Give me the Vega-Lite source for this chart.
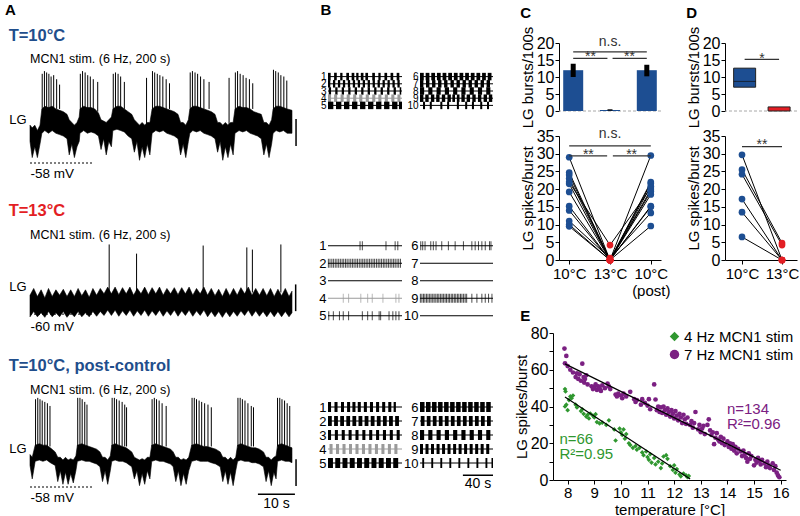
{
"$schema": "https://vega.github.io/schema/vega-lite/v6.json",
"background": "white",
"padding": {"left": 0, "top": 3, "right": 0, "bottom": 0},
"config": {
 "font": "Liberation Sans",
 "view": {"stroke": null},
 "axis": {"grid": false, "labelColor": "black", "titleColor": "black", "domainColor": "black", "tickColor": "black", "titleFontWeight": "normal", "labelFontSize": 16, "titleFontSize": 15, "tickSize": 4, "labelPadding": 1, "titlePadding": 1, "labelOverlap": false},
 "title": {"anchor": "start", "frame": "bounds", "fontSize": 15, "fontWeight": "bold", "color": "black"}
},
"datasets": {
 "env": [
  {"tr":1,"t":0,"lo":-50,"hi":-44},{"tr":1,"t":0.6,"lo":-56,"hi":-45},{"tr":1,"t":1.3,"lo":-52,"hi":-44},{"tr":1,"t":2,"lo":-56,"hi":-46},{"tr":1,"t":2.7,"lo":-51,"hi":-44},{"tr":1,"t":3.2,"lo":-47,"hi":-38},{"tr":1,"t":4,"lo":-46,"hi":-37},{"tr":1,"t":5,"lo":-47,"hi":-37.5},{"tr":1,"t":6,"lo":-46,"hi":-37},{"tr":1,"t":7,"lo":-47,"hi":-38},{"tr":1,"t":8,"lo":-47.5,"hi":-38.5},{"tr":1,"t":9,"lo":-48,"hi":-39},{"tr":1,"t":10,"lo":-49,"hi":-40},{"tr":1,"t":10.6,"lo":-55,"hi":-42},{"tr":1,"t":11.3,"lo":-51,"hi":-43},{"tr":1,"t":12,"lo":-56,"hi":-44},{"tr":1,"t":12.7,"lo":-52,"hi":-43},{"tr":1,"t":13.3,"lo":-50,"hi":-41},{"tr":1,"t":13.5,"lo":-47,"hi":-38},{"tr":1,"t":14.5,"lo":-46,"hi":-37},{"tr":1,"t":15.5,"lo":-47,"hi":-37.5},{"tr":1,"t":16.5,"lo":-46.5,"hi":-37.5},{"tr":1,"t":17.5,"lo":-47,"hi":-38},{"tr":1,"t":18.5,"lo":-48,"hi":-39.5},{"tr":1,"t":19.2,"lo":-53,"hi":-42},{"tr":1,"t":19.9,"lo":-49,"hi":-42.5},{"tr":1,"t":20.6,"lo":-55,"hi":-43},{"tr":1,"t":21.3,"lo":-50,"hi":-42},{"tr":1,"t":22,"lo":-52,"hi":-41},{"tr":1,"t":22.4,"lo":-46,"hi":-38},{"tr":1,"t":23.5,"lo":-45.5,"hi":-37},{"tr":1,"t":24.5,"lo":-46,"hi":-37},{"tr":1,"t":25.5,"lo":-46.5,"hi":-38},{"tr":1,"t":26.5,"lo":-48,"hi":-39},{"tr":1,"t":27.5,"lo":-49,"hi":-40},{"tr":1,"t":28.2,"lo":-54,"hi":-42},{"tr":1,"t":28.9,"lo":-50,"hi":-43},{"tr":1,"t":29.6,"lo":-57,"hi":-44},{"tr":1,"t":30.3,"lo":-52,"hi":-43},{"tr":1,"t":31,"lo":-56,"hi":-44},{"tr":1,"t":31.7,"lo":-51,"hi":-43},{"tr":1,"t":32.4,"lo":-55,"hi":-43},{"tr":1,"t":33,"lo":-47,"hi":-38},{"tr":1,"t":34,"lo":-46,"hi":-37},{"tr":1,"t":35,"lo":-46.5,"hi":-37},{"tr":1,"t":36,"lo":-46,"hi":-37.5},{"tr":1,"t":37,"lo":-47,"hi":-38},{"tr":1,"t":38,"lo":-47.5,"hi":-38.5},{"tr":1,"t":39,"lo":-48,"hi":-39},{"tr":1,"t":40,"lo":-49,"hi":-40},{"tr":1,"t":40.7,"lo":-55,"hi":-43},{"tr":1,"t":41.4,"lo":-51,"hi":-43},{"tr":1,"t":42.1,"lo":-56,"hi":-44},{"tr":1,"t":42.8,"lo":-50,"hi":-42},{"tr":1,"t":43.2,"lo":-47,"hi":-38},{"tr":1,"t":44,"lo":-46,"hi":-37},{"tr":1,"t":45,"lo":-46.5,"hi":-37},{"tr":1,"t":46,"lo":-46,"hi":-37.5},{"tr":1,"t":47,"lo":-47,"hi":-38},{"tr":1,"t":48,"lo":-47.5,"hi":-38.5},{"tr":1,"t":49,"lo":-48,"hi":-39},{"tr":1,"t":50,"lo":-49,"hi":-40},{"tr":1,"t":50.7,"lo":-54,"hi":-43},{"tr":1,"t":51.4,"lo":-50,"hi":-43},{"tr":1,"t":52.1,"lo":-57,"hi":-44},{"tr":1,"t":52.8,"lo":-52,"hi":-43},{"tr":1,"t":53.5,"lo":-56,"hi":-44},{"tr":1,"t":54.2,"lo":-51,"hi":-43},{"tr":1,"t":54.9,"lo":-55,"hi":-43},{"tr":1,"t":55.4,"lo":-47,"hi":-38},{"tr":1,"t":56.5,"lo":-46,"hi":-37},{"tr":1,"t":57.5,"lo":-46.5,"hi":-37.5},{"tr":1,"t":58.5,"lo":-46,"hi":-37.5},{"tr":1,"t":59.5,"lo":-47,"hi":-38},{"tr":1,"t":60.5,"lo":-47.5,"hi":-39},{"tr":1,"t":61.5,"lo":-48,"hi":-39.5},{"tr":1,"t":62.5,"lo":-49,"hi":-40},{"tr":1,"t":63.2,"lo":-55,"hi":-43},{"tr":1,"t":63.9,"lo":-51,"hi":-43},{"tr":1,"t":64.6,"lo":-56,"hi":-44},{"tr":1,"t":65.3,"lo":-51,"hi":-42},{"tr":1,"t":65.7,"lo":-47,"hi":-38},{"tr":1,"t":66.5,"lo":-46,"hi":-37},{"tr":1,"t":67.5,"lo":-46.5,"hi":-37},{"tr":1,"t":68.5,"lo":-46,"hi":-37.5},{"tr":1,"t":69.5,"lo":-47,"hi":-38},{"tr":1,"t":70.8,"lo":-47,"hi":-38.5},
  {"tr":2,"t":0,"lo":-61,"hi":-53},{"tr":2,"t":1,"lo":-59,"hi":-50.5},{"tr":2,"t":2,"lo":-61,"hi":-53.5},{"tr":2,"t":3,"lo":-59.5,"hi":-51},{"tr":2,"t":4,"lo":-61.2,"hi":-54},{"tr":2,"t":5,"lo":-59,"hi":-50.5},{"tr":2,"t":6,"lo":-61,"hi":-53.5},{"tr":2,"t":7,"lo":-59.5,"hi":-51},{"tr":2,"t":8,"lo":-61,"hi":-53},{"tr":2,"t":9,"lo":-59,"hi":-50.8},{"tr":2,"t":10,"lo":-61.2,"hi":-53.5},{"tr":2,"t":11,"lo":-59.5,"hi":-51},{"tr":2,"t":12,"lo":-61,"hi":-53.5},{"tr":2,"t":13,"lo":-59,"hi":-50.5},{"tr":2,"t":14,"lo":-61,"hi":-53.2},{"tr":2,"t":15,"lo":-59.5,"hi":-51},{"tr":2,"t":16,"lo":-61,"hi":-53.8},{"tr":2,"t":17,"lo":-59,"hi":-50.5},{"tr":2,"t":18,"lo":-60.8,"hi":-53},{"tr":2,"t":19,"lo":-59,"hi":-50.5},{"tr":2,"t":20,"lo":-60.5,"hi":-52.5},{"tr":2,"t":21,"lo":-58.5,"hi":-50},{"tr":2,"t":22,"lo":-60.5,"hi":-52.5},{"tr":2,"t":23,"lo":-58.5,"hi":-50},{"tr":2,"t":24,"lo":-60.8,"hi":-52.8},{"tr":2,"t":25,"lo":-58.8,"hi":-50.2},{"tr":2,"t":26,"lo":-60.5,"hi":-52.5},{"tr":2,"t":27,"lo":-58.5,"hi":-50},{"tr":2,"t":28,"lo":-60.8,"hi":-53},{"tr":2,"t":29,"lo":-58.8,"hi":-50.5},{"tr":2,"t":30,"lo":-60.5,"hi":-52.5},{"tr":2,"t":31,"lo":-58.5,"hi":-50},{"tr":2,"t":32,"lo":-60.8,"hi":-52.8},{"tr":2,"t":33,"lo":-58.8,"hi":-50.2},{"tr":2,"t":34,"lo":-60.5,"hi":-52.5},{"tr":2,"t":35,"lo":-58.5,"hi":-50},{"tr":2,"t":36,"lo":-60.8,"hi":-53},{"tr":2,"t":37,"lo":-58.8,"hi":-50.5},{"tr":2,"t":38,"lo":-60.5,"hi":-52.5},{"tr":2,"t":39,"lo":-58.5,"hi":-50.2},{"tr":2,"t":40,"lo":-60.8,"hi":-52.8},{"tr":2,"t":41,"lo":-58.8,"hi":-50.2},{"tr":2,"t":42,"lo":-60.5,"hi":-52.5},{"tr":2,"t":43,"lo":-58.5,"hi":-50},{"tr":2,"t":44,"lo":-60.8,"hi":-53},{"tr":2,"t":45,"lo":-58.8,"hi":-50.5},{"tr":2,"t":46,"lo":-60.5,"hi":-52.5},{"tr":2,"t":47,"lo":-58.5,"hi":-50},{"tr":2,"t":48,"lo":-61,"hi":-53},{"tr":2,"t":49,"lo":-59,"hi":-50.5},{"tr":2,"t":50,"lo":-61,"hi":-53.2},{"tr":2,"t":51,"lo":-59,"hi":-50.8},{"tr":2,"t":52,"lo":-61.2,"hi":-53.5},{"tr":2,"t":53,"lo":-59,"hi":-50.5},{"tr":2,"t":54,"lo":-61,"hi":-53.2},{"tr":2,"t":55,"lo":-59,"hi":-50.5},{"tr":2,"t":56,"lo":-60.8,"hi":-53},{"tr":2,"t":57,"lo":-58.8,"hi":-50.2},{"tr":2,"t":58,"lo":-60.5,"hi":-52.5},{"tr":2,"t":59,"lo":-58.5,"hi":-50},{"tr":2,"t":60,"lo":-60.8,"hi":-53},{"tr":2,"t":61,"lo":-58.8,"hi":-50.5},{"tr":2,"t":62,"lo":-60.8,"hi":-53},{"tr":2,"t":63,"lo":-59,"hi":-50.5},{"tr":2,"t":64,"lo":-61,"hi":-53.2},{"tr":2,"t":65,"lo":-59,"hi":-50.5},{"tr":2,"t":66,"lo":-61,"hi":-53.5},{"tr":2,"t":67,"lo":-59,"hi":-50.8},{"tr":2,"t":68,"lo":-61,"hi":-53.2},{"tr":2,"t":69,"lo":-59,"hi":-50.5},{"tr":2,"t":70,"lo":-61,"hi":-53.5},{"tr":2,"t":70.8,"lo":-59.5,"hi":-51.5},
  {"tr":3,"t":0,"lo":-50,"hi":-46},{"tr":3,"t":0.6,"lo":-55,"hi":-47},{"tr":3,"t":1.4,"lo":-48.5,"hi":-42.5},{"tr":3,"t":2.5,"lo":-48,"hi":-42},{"tr":3,"t":3.5,"lo":-48.5,"hi":-42.5},{"tr":3,"t":4.5,"lo":-48,"hi":-42.5},{"tr":3,"t":5.5,"lo":-49,"hi":-43.5},{"tr":3,"t":6.8,"lo":-50,"hi":-45},{"tr":3,"t":7.5,"lo":-56,"hi":-47},{"tr":3,"t":8.2,"lo":-52,"hi":-47},{"tr":3,"t":8.9,"lo":-57,"hi":-48},{"tr":3,"t":9.6,"lo":-52.5,"hi":-47},{"tr":3,"t":10.3,"lo":-57,"hi":-48},{"tr":3,"t":11,"lo":-53,"hi":-47.5},{"tr":3,"t":11.7,"lo":-56.5,"hi":-48},{"tr":3,"t":12.4,"lo":-52,"hi":-46.5},{"tr":3,"t":12.8,"lo":-48.5,"hi":-42.5},{"tr":3,"t":14,"lo":-48,"hi":-42},{"tr":3,"t":15,"lo":-48.5,"hi":-42.5},{"tr":3,"t":16,"lo":-48.5,"hi":-43},{"tr":3,"t":17,"lo":-49,"hi":-43.5},{"tr":3,"t":18,"lo":-49.5,"hi":-44},{"tr":3,"t":18.9,"lo":-50.5,"hi":-45},{"tr":3,"t":19.6,"lo":-56,"hi":-47},{"tr":3,"t":20.3,"lo":-52,"hi":-47},{"tr":3,"t":21,"lo":-57,"hi":-48},{"tr":3,"t":21.7,"lo":-52,"hi":-46.5},{"tr":3,"t":22.1,"lo":-48.5,"hi":-42.5},{"tr":3,"t":23,"lo":-48,"hi":-42},{"tr":3,"t":24,"lo":-48.5,"hi":-42.5},{"tr":3,"t":25,"lo":-48.5,"hi":-43},{"tr":3,"t":26,"lo":-49,"hi":-43.5},{"tr":3,"t":27.5,"lo":-50.5,"hi":-45},{"tr":3,"t":28.2,"lo":-55,"hi":-47},{"tr":3,"t":28.9,"lo":-52,"hi":-47.5},{"tr":3,"t":29.6,"lo":-57.5,"hi":-48},{"tr":3,"t":30.3,"lo":-53,"hi":-47.5},{"tr":3,"t":31,"lo":-57,"hi":-48},{"tr":3,"t":31.7,"lo":-52,"hi":-47},{"tr":3,"t":32.4,"lo":-55,"hi":-47},{"tr":3,"t":32.9,"lo":-48.5,"hi":-42.5},{"tr":3,"t":34,"lo":-48,"hi":-42},{"tr":3,"t":35,"lo":-48.5,"hi":-42.5},{"tr":3,"t":36,"lo":-48.5,"hi":-43},{"tr":3,"t":37,"lo":-49,"hi":-43.5},{"tr":3,"t":38,"lo":-49.5,"hi":-44},{"tr":3,"t":38.7,"lo":-50.5,"hi":-45},{"tr":3,"t":39.4,"lo":-56,"hi":-47},{"tr":3,"t":40.1,"lo":-52,"hi":-47},{"tr":3,"t":40.8,"lo":-57.5,"hi":-48},{"tr":3,"t":41.5,"lo":-53,"hi":-47.5},{"tr":3,"t":42.2,"lo":-57,"hi":-48},{"tr":3,"t":42.9,"lo":-52,"hi":-47},{"tr":3,"t":43.7,"lo":-48.5,"hi":-42.5},{"tr":3,"t":45,"lo":-48,"hi":-42},{"tr":3,"t":46,"lo":-48.5,"hi":-42.5},{"tr":3,"t":47,"lo":-48.5,"hi":-43},{"tr":3,"t":48,"lo":-48.5,"hi":-43},{"tr":3,"t":49,"lo":-49,"hi":-43.5},{"tr":3,"t":50.2,"lo":-49.5,"hi":-44},{"tr":3,"t":51.4,"lo":-50.5,"hi":-45},{"tr":3,"t":52.1,"lo":-56,"hi":-47},{"tr":3,"t":52.8,"lo":-52,"hi":-47},{"tr":3,"t":53.5,"lo":-57,"hi":-48},{"tr":3,"t":54.2,"lo":-52.5,"hi":-47},{"tr":3,"t":54.9,"lo":-57.5,"hi":-48},{"tr":3,"t":55.6,"lo":-52,"hi":-47},{"tr":3,"t":56.1,"lo":-48.5,"hi":-42.5},{"tr":3,"t":57,"lo":-48,"hi":-42},{"tr":3,"t":58,"lo":-48.5,"hi":-42.5},{"tr":3,"t":59,"lo":-48.5,"hi":-43},{"tr":3,"t":60,"lo":-49,"hi":-43.5},{"tr":3,"t":61,"lo":-49,"hi":-43.5},{"tr":3,"t":62,"lo":-49.5,"hi":-44},{"tr":3,"t":63.1,"lo":-50.5,"hi":-45},{"tr":3,"t":63.8,"lo":-56,"hi":-47},{"tr":3,"t":64.5,"lo":-52,"hi":-47},{"tr":3,"t":65.2,"lo":-57.5,"hi":-48},{"tr":3,"t":65.9,"lo":-52.5,"hi":-47},{"tr":3,"t":66.5,"lo":-55,"hi":-46.5},{"tr":3,"t":66.9,"lo":-48.5,"hi":-42.5},{"tr":3,"t":68,"lo":-48,"hi":-42},{"tr":3,"t":69,"lo":-48.5,"hi":-42.5},{"tr":3,"t":70,"lo":-48.5,"hi":-43},{"tr":3,"t":70.8,"lo":-49,"hi":-43.5}
 ],
 "spk": [
  {"tr":1,"t":3.3,"v":-25,"b":-38},{"tr":1,"t":3.9,"v":-24,"b":-38},{"tr":1,"t":4.5,"v":-24.5,"b":-38},{"tr":1,"t":5.1,"v":-25,"b":-38},{"tr":1,"t":5.7,"v":-26,"b":-38},{"tr":1,"t":6.4,"v":-25.5,"b":-38},{"tr":1,"t":7.2,"v":-27,"b":-38},{"tr":1,"t":8.0,"v":-29,"b":-38},
  {"tr":1,"t":13.6,"v":-25,"b":-38},{"tr":1,"t":14.2,"v":-24,"b":-38},{"tr":1,"t":14.9,"v":-24.5,"b":-38},{"tr":1,"t":15.6,"v":-25.5,"b":-38},{"tr":1,"t":16.3,"v":-26,"b":-38},{"tr":1,"t":17.1,"v":-27,"b":-38},{"tr":1,"t":18.3,"v":-28,"b":-39},
  {"tr":1,"t":22.5,"v":-25,"b":-38},{"tr":1,"t":23.1,"v":-24.5,"b":-38},{"tr":1,"t":23.8,"v":-25,"b":-38},{"tr":1,"t":24.5,"v":-26,"b":-38},{"tr":1,"t":25.5,"v":-28,"b":-38},{"tr":1,"t":31.5,"v":-26.5,"b":-44},
  {"tr":1,"t":33.1,"v":-24,"b":-38},{"tr":1,"t":33.7,"v":-24.5,"b":-38},{"tr":1,"t":34.4,"v":-25,"b":-38},{"tr":1,"t":35.1,"v":-25.5,"b":-38},{"tr":1,"t":35.9,"v":-26,"b":-38},{"tr":1,"t":36.8,"v":-27,"b":-38},{"tr":1,"t":37.7,"v":-28.5,"b":-38},
  {"tr":1,"t":43.3,"v":-24.5,"b":-38},{"tr":1,"t":43.9,"v":-24,"b":-38},{"tr":1,"t":44.6,"v":-24.5,"b":-38},{"tr":1,"t":45.3,"v":-25,"b":-38},{"tr":1,"t":46.1,"v":-26,"b":-38},{"tr":1,"t":47,"v":-27,"b":-38},{"tr":1,"t":48.4,"v":-28,"b":-38},{"tr":1,"t":53.8,"v":-26.5,"b":-44},
  {"tr":1,"t":55.5,"v":-24.5,"b":-38},{"tr":1,"t":56.1,"v":-24,"b":-38},{"tr":1,"t":56.8,"v":-25,"b":-38},{"tr":1,"t":57.6,"v":-25.5,"b":-38},{"tr":1,"t":58.4,"v":-26.5,"b":-38},{"tr":1,"t":59.3,"v":-27,"b":-38},{"tr":1,"t":60.2,"v":-28.5,"b":-38},
  {"tr":1,"t":65.8,"v":-23.5,"b":-38},{"tr":1,"t":66.4,"v":-24,"b":-38},{"tr":1,"t":67.1,"v":-24.5,"b":-38},{"tr":1,"t":67.8,"v":-25.5,"b":-38},{"tr":1,"t":68.6,"v":-26,"b":-38},{"tr":1,"t":69.4,"v":-27.5,"b":-38},
  {"tr":2,"t":21.4,"v":-34.2,"b":-52},{"tr":2,"t":28.8,"v":-37.6,"b":-52},{"tr":2,"t":46.8,"v":-34.6,"b":-52},{"tr":2,"t":58.6,"v":-35.3,"b":-52},{"tr":2,"t":60.1,"v":-36.1,"b":-52},{"tr":2,"t":67.8,"v":-34.2,"b":-52},
  {"tr":3,"t":1.5,"v":-25.5,"b":-43},{"tr":3,"t":2.1,"v":-25,"b":-43},{"tr":3,"t":2.7,"v":-25.5,"b":-43},{"tr":3,"t":3.3,"v":-26,"b":-43},{"tr":3,"t":4.0,"v":-26.5,"b":-43},{"tr":3,"t":4.7,"v":-27,"b":-43},{"tr":3,"t":5.4,"v":-28,"b":-43},
  {"tr":3,"t":12.9,"v":-25,"b":-43},{"tr":3,"t":13.5,"v":-25,"b":-43},{"tr":3,"t":14.1,"v":-25.5,"b":-43},{"tr":3,"t":14.8,"v":-26.5,"b":-43},{"tr":3,"t":15.4,"v":-27.5,"b":-43},
  {"tr":3,"t":22.2,"v":-25,"b":-43},{"tr":3,"t":22.8,"v":-25,"b":-43},{"tr":3,"t":23.4,"v":-25.5,"b":-43},{"tr":3,"t":24.1,"v":-26,"b":-43},{"tr":3,"t":24.9,"v":-26.5,"b":-43},{"tr":3,"t":25.6,"v":-27.5,"b":-43},{"tr":3,"t":26.1,"v":-28.5,"b":-43},
  {"tr":3,"t":33,"v":-25.5,"b":-43},{"tr":3,"t":33.6,"v":-25,"b":-43},{"tr":3,"t":34.2,"v":-25.5,"b":-43},{"tr":3,"t":34.9,"v":-26,"b":-43},{"tr":3,"t":35.7,"v":-27,"b":-43},{"tr":3,"t":36.8,"v":-28,"b":-43},
  {"tr":3,"t":43.8,"v":-25,"b":-43},{"tr":3,"t":44.4,"v":-25,"b":-43},{"tr":3,"t":45,"v":-25.5,"b":-43},{"tr":3,"t":45.7,"v":-26,"b":-43},{"tr":3,"t":46.4,"v":-26.5,"b":-43},{"tr":3,"t":47.2,"v":-27,"b":-43},{"tr":3,"t":48.1,"v":-27.5,"b":-43},{"tr":3,"t":49,"v":-28.5,"b":-43},
  {"tr":3,"t":56.2,"v":-25,"b":-43},{"tr":3,"t":56.8,"v":-25,"b":-43},{"tr":3,"t":57.4,"v":-25.5,"b":-43},{"tr":3,"t":58.1,"v":-26,"b":-43},{"tr":3,"t":58.9,"v":-27,"b":-43},{"tr":3,"t":59.8,"v":-28,"b":-43},{"tr":3,"t":60.4,"v":-28.5,"b":-43},
  {"tr":3,"t":66.9,"v":-25,"b":-43},{"tr":3,"t":67.5,"v":-25,"b":-43},{"tr":3,"t":68.1,"v":-25.5,"b":-43},{"tr":3,"t":68.8,"v":-26,"b":-43},{"tr":3,"t":69.5,"v":-27,"b":-43},{"tr":3,"t":70.2,"v":-28,"b":-43}
 ],
 "rows": [{"r":1},{"r":2},{"r":3},{"r":4},{"r":5},{"r":6},{"r":7},{"r":8},{"r":9},{"r":10}],
 "b": [
  {"g":1,"r":1,"s":0,"e":3.5},{"g":1,"r":1,"s":8,"e":11.5},{"g":1,"r":1,"s":16,"e":19},{"g":1,"r":1,"s":24,"e":27.5},{"g":1,"r":1,"s":31,"e":34.5},{"g":1,"r":1,"s":37,"e":40},{"g":1,"r":1,"s":43,"e":46.5},{"g":1,"r":1,"s":49,"e":52.5},{"g":1,"r":1,"s":58,"e":61.5},{"g":1,"r":1,"s":66,"e":69},{"g":1,"r":1,"s":74,"e":77.5},{"g":1,"r":1,"s":82,"e":85.5},{"g":1,"r":1,"s":90,"e":93.5},
  {"g":1,"r":2,"s":0,"e":3},{"g":1,"r":2,"s":6.5,"e":9.5},{"g":1,"r":2,"s":13,"e":16},{"g":1,"r":2,"s":19.5,"e":22.5},{"g":1,"r":2,"s":26,"e":29},{"g":1,"r":2,"s":32.5,"e":35.5},{"g":1,"r":2,"s":39,"e":42},{"g":1,"r":2,"s":45.5,"e":48.5},{"g":1,"r":2,"s":52,"e":55},{"g":1,"r":2,"s":58.5,"e":61.5},{"g":1,"r":2,"s":65,"e":68},{"g":1,"r":2,"s":71.5,"e":74.5},{"g":1,"r":2,"s":78,"e":81},{"g":1,"r":2,"s":84.5,"e":87.5},{"g":1,"r":2,"s":91,"e":94},
  {"g":1,"r":3,"s":1,"e":4},{"g":1,"r":3,"s":9.5,"e":12.5},{"g":1,"r":3,"s":18,"e":21},{"g":1,"r":3,"s":26.5,"e":29.5},{"g":1,"r":3,"s":35,"e":38},{"g":1,"r":3,"s":43.5,"e":46.5},{"g":1,"r":3,"s":52,"e":55},{"g":1,"r":3,"s":60.5,"e":63.5},{"g":1,"r":3,"s":69,"e":72},{"g":1,"r":3,"s":77.5,"e":80.5},{"g":1,"r":3,"s":86,"e":89},{"g":1,"r":3,"s":94,"e":96},
  {"g":1,"r":4,"s":0,"e":4},{"g":1,"r":4,"s":8,"e":12},{"g":1,"r":4,"s":16.5,"e":20.5},{"g":1,"r":4,"s":24.5,"e":28.5},{"g":1,"r":4,"s":33,"e":37},{"g":1,"r":4,"s":41,"e":45},{"g":1,"r":4,"s":49.5,"e":53.5},{"g":1,"r":4,"s":58,"e":62},{"g":1,"r":4,"s":66,"e":70},{"g":1,"r":4,"s":74.5,"e":78.5},{"g":1,"r":4,"s":83,"e":87},{"g":1,"r":4,"s":91,"e":95},
  {"g":1,"r":5,"s":0,"e":7},{"g":1,"r":5,"s":10.5,"e":17.5},{"g":1,"r":5,"s":21,"e":28},{"g":1,"r":5,"s":31.5,"e":38.5},{"g":1,"r":5,"s":42,"e":49},{"g":1,"r":5,"s":52.5,"e":59.5},{"g":1,"r":5,"s":63,"e":70},{"g":1,"r":5,"s":73.5,"e":80.5},{"g":1,"r":5,"s":84,"e":91},{"g":1,"r":5,"s":93,"e":97},
  {"g":1,"r":6,"s":0,"e":5},{"g":1,"r":6,"s":7.5,"e":12.5},{"g":1,"r":6,"s":15,"e":20},{"g":1,"r":6,"s":22.5,"e":27.5},{"g":1,"r":6,"s":30,"e":35},{"g":1,"r":6,"s":37.5,"e":42.5},{"g":1,"r":6,"s":45,"e":50},{"g":1,"r":6,"s":52.5,"e":57.5},{"g":1,"r":6,"s":60,"e":65},{"g":1,"r":6,"s":67.5,"e":72.5},{"g":1,"r":6,"s":75,"e":80},{"g":1,"r":6,"s":82.5,"e":87.5},{"g":1,"r":6,"s":90,"e":95},
  {"g":1,"r":7,"s":0,"e":4.5},{"g":1,"r":7,"s":8,"e":12.5},{"g":1,"r":7,"s":16,"e":20.5},{"g":1,"r":7,"s":24,"e":28.5},{"g":1,"r":7,"s":32,"e":36.5},{"g":1,"r":7,"s":40.5,"e":45},{"g":1,"r":7,"s":48.5,"e":53},{"g":1,"r":7,"s":56.5,"e":61},{"g":1,"r":7,"s":64.5,"e":69},{"g":1,"r":7,"s":72.5,"e":77},{"g":1,"r":7,"s":80.5,"e":85},{"g":1,"r":7,"s":88.5,"e":93},
  {"g":1,"r":8,"s":0,"e":5.5},{"g":1,"r":8,"s":11,"e":16.5},{"g":1,"r":8,"s":22,"e":27.5},{"g":1,"r":8,"s":33,"e":38.5},{"g":1,"r":8,"s":44,"e":49.5},{"g":1,"r":8,"s":55,"e":60.5},{"g":1,"r":8,"s":66,"e":71.5},{"g":1,"r":8,"s":77,"e":82.5},{"g":1,"r":8,"s":88,"e":93.5},
  {"g":1,"r":9,"s":0,"e":4.5},{"g":1,"r":9,"s":7,"e":11.5},{"g":1,"r":9,"s":14.5,"e":19},{"g":1,"r":9,"s":21.5,"e":26},{"g":1,"r":9,"s":29,"e":33.5},{"g":1,"r":9,"s":36.5,"e":41},{"g":1,"r":9,"s":43,"e":46.5},{"g":1,"r":9,"s":49,"e":52.5},{"g":1,"r":9,"s":55,"e":59.5},{"g":1,"r":9,"s":62,"e":66.5},{"g":1,"r":9,"s":69.5,"e":74},{"g":1,"r":9,"s":77,"e":81.5},{"g":1,"r":9,"s":84.5,"e":89},{"g":1,"r":9,"s":91.5,"e":96},
  {"g":1,"r":10,"s":4,"e":6.7},{"g":1,"r":10,"s":13,"e":15.7},{"g":1,"r":10,"s":27,"e":29.7},{"g":1,"r":10,"s":36,"e":38.7},{"g":1,"r":10,"s":49,"e":51.7},{"g":1,"r":10,"s":60,"e":62.7},{"g":1,"r":10,"s":69,"e":71.7},{"g":1,"r":10,"s":80,"e":82.7},{"g":1,"r":10,"s":89,"e":91.7},
  {"g":3,"r":1,"s":0,"e":4},{"g":3,"r":1,"s":8.5,"e":12.5},{"g":3,"r":1,"s":17,"e":21},{"g":3,"r":1,"s":25,"e":29},{"g":3,"r":1,"s":32,"e":36},{"g":3,"r":1,"s":39,"e":43},{"g":3,"r":1,"s":47,"e":51},{"g":3,"r":1,"s":55,"e":59},{"g":3,"r":1,"s":63,"e":67},{"g":3,"r":1,"s":71,"e":75},{"g":3,"r":1,"s":79,"e":83},{"g":3,"r":1,"s":86,"e":89},
  {"g":3,"r":2,"s":0,"e":5},{"g":3,"r":2,"s":8,"e":13},{"g":3,"r":2,"s":16,"e":21},{"g":3,"r":2,"s":24,"e":29},{"g":3,"r":2,"s":32,"e":37},{"g":3,"r":2,"s":40,"e":45},{"g":3,"r":2,"s":48,"e":53},{"g":3,"r":2,"s":56,"e":61},{"g":3,"r":2,"s":64,"e":69},{"g":3,"r":2,"s":72,"e":77},{"g":3,"r":2,"s":80,"e":85},{"g":3,"r":2,"s":88,"e":93},
  {"g":3,"r":3,"s":0,"e":4},{"g":3,"r":3,"s":9,"e":13},{"g":3,"r":3,"s":18,"e":22},{"g":3,"r":3,"s":27,"e":31},{"g":3,"r":3,"s":36,"e":40},{"g":3,"r":3,"s":45,"e":49},{"g":3,"r":3,"s":54,"e":58},{"g":3,"r":3,"s":63,"e":67},{"g":3,"r":3,"s":72,"e":76},{"g":3,"r":3,"s":81,"e":85},{"g":3,"r":3,"s":90,"e":94},
  {"g":3,"r":4,"s":2,"e":6},{"g":3,"r":4,"s":10.5,"e":14.5},{"g":3,"r":4,"s":19,"e":23},{"g":3,"r":4,"s":27.5,"e":31.5},{"g":3,"r":4,"s":36,"e":40},{"g":3,"r":4,"s":44.5,"e":48.5},{"g":3,"r":4,"s":53,"e":57},{"g":3,"r":4,"s":61.5,"e":65.5},{"g":3,"r":4,"s":70,"e":74},{"g":3,"r":4,"s":78.5,"e":82.5},{"g":3,"r":4,"s":87,"e":91},
  {"g":3,"r":5,"s":0,"e":6.5},{"g":3,"r":5,"s":9.5,"e":16},{"g":3,"r":5,"s":19,"e":25.5},{"g":3,"r":5,"s":28.5,"e":35},{"g":3,"r":5,"s":38,"e":44.5},{"g":3,"r":5,"s":47.5,"e":54},{"g":3,"r":5,"s":57,"e":63.5},{"g":3,"r":5,"s":66.5,"e":73},{"g":3,"r":5,"s":76,"e":82.5},{"g":3,"r":5,"s":85.5,"e":92},
  {"g":3,"r":6,"s":0,"e":6},{"g":3,"r":6,"s":8,"e":14},{"g":3,"r":6,"s":16,"e":22},{"g":3,"r":6,"s":24,"e":30},{"g":3,"r":6,"s":32,"e":38},{"g":3,"r":6,"s":40,"e":46},{"g":3,"r":6,"s":48,"e":54},{"g":3,"r":6,"s":56,"e":62},{"g":3,"r":6,"s":64,"e":70},{"g":3,"r":6,"s":72,"e":78},{"g":3,"r":6,"s":80,"e":86},{"g":3,"r":6,"s":88,"e":94},
  {"g":3,"r":7,"s":1,"e":6},{"g":3,"r":7,"s":9,"e":14},{"g":3,"r":7,"s":17,"e":22},{"g":3,"r":7,"s":25,"e":30},{"g":3,"r":7,"s":33,"e":38},{"g":3,"r":7,"s":41,"e":46},{"g":3,"r":7,"s":49,"e":54},{"g":3,"r":7,"s":57,"e":62},{"g":3,"r":7,"s":65,"e":70},{"g":3,"r":7,"s":73,"e":78},{"g":3,"r":7,"s":81,"e":86},{"g":3,"r":7,"s":89,"e":94},
  {"g":3,"r":8,"s":0,"e":5.5},{"g":3,"r":8,"s":11,"e":16.5},{"g":3,"r":8,"s":22,"e":27.5},{"g":3,"r":8,"s":33,"e":38.5},{"g":3,"r":8,"s":44,"e":49.5},{"g":3,"r":8,"s":55,"e":60.5},{"g":3,"r":8,"s":66,"e":71.5},{"g":3,"r":8,"s":77,"e":82.5},{"g":3,"r":8,"s":88,"e":93.5},
  {"g":3,"r":9,"s":0,"e":4},{"g":3,"r":9,"s":7.3,"e":11.3},{"g":3,"r":9,"s":14.6,"e":18.6},{"g":3,"r":9,"s":22,"e":26},{"g":3,"r":9,"s":29.3,"e":33.3},{"g":3,"r":9,"s":36.6,"e":40.6},{"g":3,"r":9,"s":44,"e":48},{"g":3,"r":9,"s":51.3,"e":55.3},{"g":3,"r":9,"s":58.6,"e":62.6},{"g":3,"r":9,"s":66,"e":70},{"g":3,"r":9,"s":73.3,"e":77.3},{"g":3,"r":9,"s":80.6,"e":84.6},{"g":3,"r":9,"s":88,"e":92},
  {"g":3,"r":10,"s":3,"e":5.5},{"g":3,"r":10,"s":15,"e":17.5},{"g":3,"r":10,"s":27,"e":29.5},{"g":3,"r":10,"s":39,"e":41.5},{"g":3,"r":10,"s":51,"e":53.5},{"g":3,"r":10,"s":63,"e":65.5},{"g":3,"r":10,"s":75,"e":77.5},{"g":3,"r":10,"s":87,"e":89.5},{"g":3,"r":10,"s":95,"e":97}
 ],
 "k": [
  {"r":1,"t":42},{"r":1,"t":45},{"r":1,"t":76},{"r":1,"t":88},{"r":1,"t":91.5},
  {"r":2,"t":0.5},{"r":2,"t":2.6},{"r":2,"t":5},{"r":2,"t":7.1},{"r":2,"t":9.5},{"r":2,"t":11.7},{"r":2,"t":14},{"r":2,"t":16.2},{"r":2,"t":18.5},{"r":2,"t":20.6},{"r":2,"t":23},{"r":2,"t":25.1},{"r":2,"t":27.5},{"r":2,"t":29.8},{"r":2,"t":32},{"r":2,"t":34.2},{"r":2,"t":36.5},{"r":2,"t":38.6},{"r":2,"t":41},{"r":2,"t":43.3},{"r":2,"t":45.5},{"r":2,"t":47.6},{"r":2,"t":50},{"r":2,"t":52.2},{"r":2,"t":54.5},{"r":2,"t":56.7},{"r":2,"t":59},{"r":2,"t":61.1},{"r":2,"t":63.5},{"r":2,"t":65.8},{"r":2,"t":68},{"r":2,"t":70.2},{"r":2,"t":72.5},{"r":2,"t":74.6},{"r":2,"t":77},{"r":2,"t":79.2},{"r":2,"t":81.5},{"r":2,"t":83.7},{"r":2,"t":86},{"r":2,"t":88.1},{"r":2,"t":90.5},{"r":2,"t":92.7},{"r":2,"t":95},
  {"r":4,"t":20},{"r":4,"t":27},{"r":4,"t":43},{"r":4,"t":52},{"r":4,"t":58},{"r":4,"t":72},{"r":4,"t":89},{"r":4,"t":93},
  {"r":5,"t":1},{"r":5,"t":7},{"r":5,"t":15},{"r":5,"t":20},{"r":5,"t":27},{"r":5,"t":45},{"r":5,"t":52},{"r":5,"t":58},{"r":5,"t":67},{"r":5,"t":69},{"r":5,"t":80},{"r":5,"t":85},{"r":5,"t":89},{"r":5,"t":93},
  {"r":6,"t":1},{"r":6,"t":3.6},{"r":6,"t":6.7},{"r":6,"t":14.3},{"r":6,"t":17.7},{"r":6,"t":21.3},{"r":6,"t":28.9},{"r":6,"t":37.7},{"r":6,"t":46.7},{"r":6,"t":57.7},{"r":6,"t":68.9},{"r":6,"t":73.3},{"r":6,"t":77.7},{"r":6,"t":82.2},{"r":6,"t":86.7},{"r":6,"t":92.4},{"r":6,"t":94.3},
  {"r":9,"t":0.5},{"r":9,"t":2.5},{"r":9,"t":4.6},{"r":9,"t":6.5},{"r":9,"t":8.7},{"r":9,"t":10.6},{"r":9,"t":12.8},{"r":9,"t":14.7},{"r":9,"t":16.9},{"r":9,"t":18.8},{"r":9,"t":21},{"r":9,"t":23},{"r":9,"t":25},{"r":9,"t":27.1},{"r":9,"t":29.2},{"r":9,"t":31.1},{"r":9,"t":33.3},{"r":9,"t":35.2},{"r":9,"t":37.4},{"r":9,"t":39.3},{"r":9,"t":41.5},{"r":9,"t":43.4},{"r":9,"t":45.6},{"r":9,"t":47.5},{"r":9,"t":49.7},{"r":9,"t":51.6},{"r":9,"t":53.8},{"r":9,"t":55.7},{"r":9,"t":57.9},{"r":9,"t":60},{"r":9,"t":62},{"r":9,"t":68.9},{"r":9,"t":75.6},{"r":9,"t":82.2},{"r":9,"t":86.7},{"r":9,"t":91.1},{"r":9,"t":95.6}
 ],
 "cbar": [{"x":1,"m":12,"lo":10,"hi":13.9},{"x":2,"m":0.3,"lo":0.1,"hi":0.5},{"x":3,"m":12,"lo":10.2,"hi":13.6}],
 "cs": [
  {"p":1,"x":1,"v":29},{"p":1,"x":2,"v":0},{"p":1,"x":3,"v":29.5},
  {"p":2,"x":1,"v":24.7},{"p":2,"x":2,"v":0},{"p":2,"x":3,"v":22},
  {"p":3,"x":1,"v":24},{"p":3,"x":2,"v":0},{"p":3,"x":3,"v":21.6},
  {"p":4,"x":1,"v":23},{"p":4,"x":2,"v":0},{"p":4,"x":3,"v":20.8},
  {"p":5,"x":1,"v":22},{"p":5,"x":2,"v":4.2},{"p":5,"x":3,"v":20.3},
  {"p":6,"x":1,"v":21.5},{"p":6,"x":2,"v":0},{"p":6,"x":3,"v":19.8},
  {"p":7,"x":1,"v":19.2},{"p":7,"x":2,"v":0},{"p":7,"x":3,"v":19.3},
  {"p":8,"x":1,"v":15.2},{"p":8,"x":2,"v":0},{"p":8,"x":3,"v":18.5},
  {"p":9,"x":1,"v":14},{"p":9,"x":2,"v":0},{"p":9,"x":3,"v":15.2},
  {"p":10,"x":1,"v":11},{"p":10,"x":2,"v":0.5},{"p":10,"x":3,"v":13.3},
  {"p":11,"x":1,"v":10},{"p":11,"x":2,"v":0},{"p":11,"x":3,"v":15},
  {"p":12,"x":1,"v":9.5},{"p":12,"x":2,"v":0},{"p":12,"x":3,"v":9.6}
 ],
 "dbox": [{"x":1,"q1":7,"q3":12.6,"med":8.7},{"x":2,"q1":0,"q3":1.2,"med":0}],
 "ds": [
  {"p":1,"x":1,"v":29.7},{"p":1,"x":2,"v":0},
  {"p":2,"x":1,"v":25.5},{"p":2,"x":2,"v":4.8},
  {"p":3,"x":1,"v":24.2},{"p":3,"x":2,"v":4.2},
  {"p":4,"x":1,"v":17.2},{"p":4,"x":2,"v":0},
  {"p":5,"x":1,"v":13.5},{"p":5,"x":2,"v":0},
  {"p":6,"x":1,"v":6.5},{"p":6,"x":2,"v":0}
 ],
 "sig": [
  {"p":"ct","x1":1,"x2":3,"y":17.4,"xm":2,"ty":19.1,"lab":"n.s."},
  {"p":"ct","x1":1,"x2":1.93,"y":15.5,"xm":1.47,"ty":14.7,"lab":"**"},
  {"p":"ct","x1":2.07,"x2":3,"y":15.5,"xm":2.53,"ty":14.7,"lab":"**"},
  {"p":"cb","x1":1,"x2":3,"y":32.2,"xm":2,"ty":34.5,"lab":"n.s."},
  {"p":"cb","x1":1,"x2":1.93,"y":29.4,"xm":1.47,"ty":28.6,"lab":"**"},
  {"p":"cb","x1":2.07,"x2":3,"y":29.4,"xm":2.53,"ty":28.6,"lab":"**"},
  {"p":"dt","x1":1,"x2":2,"y":15.2,"xm":1.5,"ty":14.1,"lab":"*"},
  {"p":"db","x1":1,"x2":2,"y":32,"xm":1.5,"ty":31.3,"lab":"**"}
 ],
 "reg": [{"f":4,"T":7.9,"v":45.2},{"f":4,"T":12.6,"v":0.5},{"f":7,"T":7.9,"v":63.2},{"f":7,"T":16,"v":5.3}],
 "etx": [{"f":7,"T":13.98,"v":35.9,"txt":"n=134"},{"f":7,"T":13.98,"v":27.8,"txt":"R²=0.96"},{"f":4,"T":7.69,"v":19.6,"txt":"n=66"},{"f":4,"T":7.69,"v":11.4,"txt":"R²=0.95"}],
 "sc": [
  {"f":4,"T":7.9,"v":49.5},{"f":4,"T":7.92,"v":48.2},{"f":4,"T":7.95,"v":41},{"f":4,"T":7.9,"v":40},{"f":4,"T":8.0,"v":38},{"f":4,"T":8.05,"v":43.5},{"f":4,"T":8.1,"v":45.5},{"f":4,"T":8.15,"v":44.5},{"f":4,"T":8.2,"v":46},{"f":4,"T":8.3,"v":41},{"f":4,"T":8.35,"v":39.5},{"f":4,"T":8.5,"v":37.5},{"f":4,"T":8.55,"v":38.5},{"f":4,"T":8.6,"v":36},{"f":4,"T":8.7,"v":34.5},{"f":4,"T":8.75,"v":35.5},{"f":4,"T":8.8,"v":33.5},{"f":4,"T":8.85,"v":36.2},{"f":4,"T":8.95,"v":35},{"f":4,"T":9.0,"v":34},{"f":4,"T":9.05,"v":35.8},{"f":4,"T":9.1,"v":31.5},{"f":4,"T":9.2,"v":30.8},{"f":4,"T":9.3,"v":31.2},{"f":4,"T":9.45,"v":30},{"f":4,"T":9.55,"v":32.5},{"f":4,"T":9.75,"v":27.5},{"f":4,"T":9.8,"v":21.5},{"f":4,"T":9.95,"v":28},{"f":4,"T":10.0,"v":26},{"f":4,"T":10.05,"v":24.5},{"f":4,"T":10.1,"v":27.5},{"f":4,"T":10.15,"v":22.5},{"f":4,"T":10.2,"v":25},{"f":4,"T":10.3,"v":20},{"f":4,"T":10.35,"v":19},{"f":4,"T":10.45,"v":17.5},{"f":4,"T":10.55,"v":18.5},{"f":4,"T":10.6,"v":16.5},{"f":4,"T":10.7,"v":17.5},{"f":4,"T":10.8,"v":15},{"f":4,"T":10.85,"v":13.5},{"f":4,"T":10.95,"v":15.5},{"f":4,"T":11.0,"v":12.5},{"f":4,"T":11.05,"v":11},{"f":4,"T":11.1,"v":14},{"f":4,"T":11.15,"v":9.5},{"f":4,"T":11.25,"v":12},{"f":4,"T":11.3,"v":8.5},{"f":4,"T":11.4,"v":10},{"f":4,"T":11.5,"v":6.5},{"f":4,"T":11.55,"v":9},{"f":4,"T":11.6,"v":12.8},{"f":4,"T":11.7,"v":13.5},{"f":4,"T":11.75,"v":11.5},{"f":4,"T":11.85,"v":7.5},{"f":4,"T":11.95,"v":5.5},{"f":4,"T":12.0,"v":8},{"f":4,"T":12.05,"v":4},{"f":4,"T":12.1,"v":6},{"f":4,"T":12.2,"v":3},{"f":4,"T":12.25,"v":2},{"f":4,"T":12.35,"v":3.5},{"f":4,"T":12.45,"v":2.5},{"f":4,"T":12.5,"v":1.5},{"f":4,"T":12.55,"v":2.2},
  {"f":7,"T":7.88,"v":71.5},{"f":7,"T":7.9,"v":63.5},{"f":7,"T":7.95,"v":67.5},{"f":7,"T":8.0,"v":62},{"f":7,"T":8.1,"v":60},{"f":7,"T":8.2,"v":58.5},{"f":7,"T":8.3,"v":56},{"f":7,"T":8.35,"v":58},{"f":7,"T":8.4,"v":55},{"f":7,"T":8.45,"v":57.5},{"f":7,"T":8.5,"v":54},{"f":7,"T":8.55,"v":63.3},{"f":7,"T":8.6,"v":56},{"f":7,"T":8.62,"v":53},{"f":7,"T":8.65,"v":55},{"f":7,"T":8.7,"v":57},{"f":7,"T":8.75,"v":52},{"f":7,"T":8.9,"v":51},{"f":7,"T":8.95,"v":49.5},{"f":7,"T":9.0,"v":50.5},{"f":7,"T":9.05,"v":52},{"f":7,"T":9.1,"v":49},{"f":7,"T":9.15,"v":51},{"f":7,"T":9.2,"v":50},{"f":7,"T":9.25,"v":48.5},{"f":7,"T":9.3,"v":51.5},{"f":7,"T":9.4,"v":50},{"f":7,"T":9.5,"v":52.5},{"f":7,"T":9.55,"v":51},{"f":7,"T":9.6,"v":49.5},{"f":7,"T":9.8,"v":46.5},{"f":7,"T":9.85,"v":45.5},{"f":7,"T":9.9,"v":47},{"f":7,"T":10.0,"v":46},{"f":7,"T":10.05,"v":44.5},{"f":7,"T":10.1,"v":47},{"f":7,"T":10.2,"v":45.5},{"f":7,"T":10.35,"v":48},{"f":7,"T":10.5,"v":44},{"f":7,"T":10.55,"v":42.5},{"f":7,"T":10.6,"v":43.5},{"f":7,"T":10.75,"v":41},{"f":7,"T":10.8,"v":44},{"f":7,"T":10.9,"v":42},{"f":7,"T":11.0,"v":40.5},{"f":7,"T":11.05,"v":44},{"f":7,"T":11.1,"v":38.5},{"f":7,"T":11.25,"v":52},{"f":7,"T":11.3,"v":43.8},{"f":7,"T":11.35,"v":38},{"f":7,"T":11.4,"v":40},{"f":7,"T":11.45,"v":37},{"f":7,"T":11.5,"v":39.5},{"f":7,"T":11.55,"v":36.5},{"f":7,"T":11.6,"v":40},{"f":7,"T":11.65,"v":38},{"f":7,"T":11.7,"v":35.5},{"f":7,"T":11.75,"v":39},{"f":7,"T":11.8,"v":37},{"f":7,"T":11.85,"v":34.5},{"f":7,"T":11.9,"v":38},{"f":7,"T":11.95,"v":36},{"f":7,"T":12.0,"v":33.5},{"f":7,"T":12.05,"v":37.5},{"f":7,"T":12.1,"v":35},{"f":7,"T":12.15,"v":32.5},{"f":7,"T":12.2,"v":36},{"f":7,"T":12.25,"v":34},{"f":7,"T":12.3,"v":31},{"f":7,"T":12.35,"v":35.5},{"f":7,"T":12.4,"v":33},{"f":7,"T":12.45,"v":30.5},{"f":7,"T":12.5,"v":34},{"f":7,"T":12.6,"v":30},{"f":7,"T":12.65,"v":32},{"f":7,"T":12.7,"v":28.5},{"f":7,"T":12.75,"v":31},{"f":7,"T":12.8,"v":37},{"f":7,"T":12.9,"v":27.5},{"f":7,"T":12.95,"v":30},{"f":7,"T":13.0,"v":26},{"f":7,"T":13.05,"v":28},{"f":7,"T":13.1,"v":29.5},{"f":7,"T":13.15,"v":25},{"f":7,"T":13.25,"v":30},{"f":7,"T":13.3,"v":33},{"f":7,"T":13.35,"v":27},{"f":7,"T":13.4,"v":24.5},{"f":7,"T":13.45,"v":26},{"f":7,"T":13.5,"v":19.5},{"f":7,"T":13.55,"v":23},{"f":7,"T":13.6,"v":25.5},{"f":7,"T":13.65,"v":22},{"f":7,"T":13.7,"v":21},{"f":7,"T":13.75,"v":23.5},{"f":7,"T":13.8,"v":20},{"f":7,"T":13.85,"v":22.5},{"f":7,"T":13.9,"v":19},{"f":7,"T":14.0,"v":21},{"f":7,"T":14.05,"v":18},{"f":7,"T":14.1,"v":20},{"f":7,"T":14.15,"v":17},{"f":7,"T":14.2,"v":19.5},{"f":7,"T":14.25,"v":16},{"f":7,"T":14.3,"v":18},{"f":7,"T":14.35,"v":14.5},{"f":7,"T":14.4,"v":17},{"f":7,"T":14.5,"v":15.5},{"f":7,"T":14.55,"v":13},{"f":7,"T":14.6,"v":16},{"f":7,"T":14.65,"v":14},{"f":7,"T":14.7,"v":12},{"f":7,"T":14.75,"v":10},{"f":7,"T":14.8,"v":14.5},{"f":7,"T":14.85,"v":11.5},{"f":7,"T":14.9,"v":13},{"f":7,"T":15.0,"v":8},{"f":7,"T":15.05,"v":11},{"f":7,"T":15.1,"v":9.5},{"f":7,"T":15.15,"v":12},{"f":7,"T":15.2,"v":10.5},{"f":7,"T":15.25,"v":8.5},{"f":7,"T":15.3,"v":11},{"f":7,"T":15.4,"v":9},{"f":7,"T":15.45,"v":7},{"f":7,"T":15.5,"v":10},{"f":7,"T":15.55,"v":8},{"f":7,"T":15.6,"v":6.5},{"f":7,"T":15.7,"v":9},{"f":7,"T":15.75,"v":5.5},{"f":7,"T":15.8,"v":7.5},{"f":7,"T":15.85,"v":4},{"f":7,"T":15.9,"v":2.5},{"f":7,"T":15.95,"v":1.5}
 ]
},
"bounds": "flush",
"spacing": 0,
"hconcat": [
 {"width": 30, "height": 1, "data": {"values": []}, "mark": "point", "title": {"text": "A", "offset": 25, "dx": 5}},
 {
  "bounds": "flush", "spacing": 55,
  "vconcat": [
   {
    "width": 268, "height": 120,
    "title": {"text": "T=10°C", "color": "#1f4e8c", "fontSize": 16.5, "offset": -1},
    "layer": [
     {"data": {"name": "env"}, "transform": [{"filter": "datum.tr == 1"}], "mark": {"type": "area", "color": "black", "stroke": "black", "strokeWidth": 0.6},
      "encoding": {"x": {"field": "t", "type": "quantitative", "scale": {"domain": [0, 72.43], "nice": false, "zero": false}, "axis": {"title": "-58 mV", "titleAnchor": "start", "titleFontSize": 13.5, "titlePadding": 3, "labels": false, "ticks": false, "domain": false}},
       "y": {"field": "hi", "type": "quantitative", "scale": {"domain": [-58, -13.6], "nice": false, "zero": false}, "axis": {"title": "LG", "titleAngle": 0, "titleAlign": "right", "titleBaseline": "middle", "titleX": -4, "titleY": 76, "titleFontSize": 13, "labels": false, "ticks": false, "domain": false}},
       "y2": {"field": "lo"}}},
     {"data": {"name": "spk"}, "transform": [{"filter": "datum.tr == 1"}], "mark": {"type": "rule", "color": "black", "strokeWidth": 1},
      "encoding": {"x": {"field": "t", "type": "quantitative"}, "y": {"field": "v", "type": "quantitative"}, "y2": {"field": "b"}}},
     {"data": {"values": [{}]}, "mark": {"type": "rule", "color": "black", "strokeDash": [2, 2]}, "encoding": {"x": {"datum": 0}, "x2": {"datum": 16.8}, "y": {"datum": -58}}},
     {"data": {"values": [{}]}, "mark": {"type": "rule", "color": "black", "strokeWidth": 1.5}, "encoding": {"x": {"datum": 71.9}, "y": {"datum": -51.7}, "y2": {"datum": -41.7}}},
     {"data": {"values": [{}]}, "mark": {"type": "text", "text": "MCN1 stim. (6 Hz, 200 s)", "align": "left", "baseline": "alphabetic", "fontSize": 12.5}, "encoding": {"x": {"datum": 0}, "y": {"datum": -21}}}
    ]
   },
   {
    "width": 268, "height": 100,
    "title": {"text": "T=13°C", "color": "#e31e24", "fontSize": 16.5, "offset": -1},
    "layer": [
     {"data": {"name": "env"}, "transform": [{"filter": "datum.tr == 2"}], "mark": {"type": "area", "color": "black", "stroke": "black", "strokeWidth": 0.6},
      "encoding": {"x": {"field": "t", "type": "quantitative", "scale": {"domain": [0, 72.43], "nice": false, "zero": false}, "axis": {"title": "-60 mV", "titleAnchor": "start", "titleFontSize": 13.5, "titlePadding": 1, "labels": false, "ticks": false, "domain": false}},
       "y": {"field": "hi", "type": "quantitative", "scale": {"domain": [-61.44, -24.4], "nice": false, "zero": false}, "axis": {"title": "LG", "titleAngle": 0, "titleAlign": "right", "titleBaseline": "middle", "titleX": -4, "titleY": 68, "titleFontSize": 13, "labels": false, "ticks": false, "domain": false}},
       "y2": {"field": "lo"}}},
     {"data": {"name": "spk"}, "transform": [{"filter": "datum.tr == 2"}], "mark": {"type": "rule", "color": "black", "strokeWidth": 1},
      "encoding": {"x": {"field": "t", "type": "quantitative"}, "y": {"field": "v", "type": "quantitative"}, "y2": {"field": "b"}}},
     {"data": {"values": [{}]}, "mark": {"type": "rule", "color": "black", "strokeDash": [2, 2]}, "encoding": {"x": {"datum": 0}, "x2": {"datum": 16.8}, "y": {"datum": -60}}},
     {"data": {"values": [{}]}, "mark": {"type": "rule", "color": "black", "strokeWidth": 1.5}, "encoding": {"x": {"datum": 71.8}, "y": {"datum": -58.9}, "y2": {"datum": -49}}},
     {"data": {"values": [{}]}, "mark": {"type": "text", "text": "MCN1 stim. (6 Hz, 200 s)", "align": "left", "baseline": "alphabetic", "fontSize": 12.5}, "encoding": {"x": {"datum": 0}, "y": {"datum": -32.2}}}
    ]
   },
   {
    "width": 268, "height": 114,
    "title": {"text": "T=10°C, post-control", "color": "#1f4e8c", "fontSize": 16.5, "offset": -1},
    "layer": [
     {"data": {"name": "env"}, "transform": [{"filter": "datum.tr == 3"}], "mark": {"type": "area", "color": "black", "stroke": "black", "strokeWidth": 0.6},
      "encoding": {"x": {"field": "t", "type": "quantitative", "scale": {"domain": [0, 72.43], "nice": false, "zero": false}, "axis": {"title": "-58 mV", "titleAnchor": "start", "titleFontSize": 13.5, "titlePadding": 3, "labels": false, "ticks": false, "domain": false}},
       "y": {"field": "hi", "type": "quantitative", "scale": {"domain": [-58, -15.8], "nice": false, "zero": false}, "axis": {"title": "LG", "titleAngle": 0, "titleAlign": "right", "titleBaseline": "middle", "titleX": -4, "titleY": 75, "titleFontSize": 13, "labels": false, "ticks": false, "domain": false}},
       "y2": {"field": "lo"}}},
     {"data": {"name": "spk"}, "transform": [{"filter": "datum.tr == 3"}], "mark": {"type": "rule", "color": "black", "strokeWidth": 1},
      "encoding": {"x": {"field": "t", "type": "quantitative"}, "y": {"field": "v", "type": "quantitative"}, "y2": {"field": "b"}}},
     {"data": {"values": [{}]}, "mark": {"type": "rule", "color": "black", "strokeDash": [2, 2]}, "encoding": {"x": {"datum": 0}, "x2": {"datum": 16.8}, "y": {"datum": -58}}},
     {"data": {"values": [{}]}, "mark": {"type": "rule", "color": "black", "strokeWidth": 1.5}, "encoding": {"x": {"datum": 71.9}, "y": {"datum": -57.6}, "y2": {"datum": -47.7}}},
     {"data": {"values": [{}]}, "mark": {"type": "rule", "color": "black", "strokeWidth": 1.5}, "encoding": {"x": {"datum": 61.6}, "x2": {"datum": 71.6}, "y": {"datum": -60.7}}},
     {"data": {"values": [{}]}, "mark": {"type": "text", "text": "10 s", "align": "center", "baseline": "alphabetic", "fontSize": 14}, "encoding": {"x": {"datum": 66.6}, "y": {"datum": -65.8}}},
     {"data": {"values": [{}]}, "mark": {"type": "text", "text": "MCN1 stim. (6 Hz, 200 s)", "align": "left", "baseline": "alphabetic", "fontSize": 12.5}, "encoding": {"x": {"datum": 0}, "y": {"datum": -23.6}}}
    ]
   }
  ]
 },
 {"width": 298, "height": 1, "data": {"values": []}, "mark": "point"},
 {
  "bounds": "flush", "spacing": 0,
  "vconcat": [
   {"width": 1, "height": 25, "data": {"values": []}, "mark": "point"},
   {
    "bounds": "flush", "spacing": 18,
    "hconcat": [
     {
      "width": 74, "height": 46,
      "title": {"text": "B", "offset": 50},
      "layer": [
       {"data": {"name": "rows"}, "transform": [{"filter": "datum.r <= 5"}], "mark": {"type": "rule", "strokeWidth": 1},
        "encoding": {"x": {"datum": 0, "type": "quantitative", "scale": {"domain": [0, 97], "nice": false, "zero": false}, "axis": null}, "x2": {"datum": 97},
         "y": {"field": "r", "type": "quantitative", "scale": {"domain": [0.5, 5.5], "reverse": true, "nice": false, "zero": false}, "axis": {"values": [1, 2, 3, 4, 5], "tickCount": 50, "format": "d", "title": null, "labelFontSize": 10, "ticks": false, "domain": false, "labelPadding": 2}},
         "color": {"condition": {"test": "datum.r == 4", "value": "#9a9a9a"}, "value": "black"}}},
       {"data": {"name": "b"}, "transform": [{"filter": "datum.g == 1 && datum.r <= 5"}], "mark": {"type": "bar", "orient": "horizontal", "size": 7.5},
        "encoding": {"x": {"field": "s", "type": "quantitative", "axis": null}, "x2": {"field": "e"}, "y": {"field": "r", "type": "quantitative"},
         "color": {"condition": {"test": "datum.r == 4", "value": "#9a9a9a"}, "value": "black"}}}
      ]
     },
     {
      "width": 73, "height": 46,
      "layer": [
       {"data": {"name": "rows"}, "transform": [{"filter": "datum.r > 5"}], "mark": {"type": "rule", "strokeWidth": 1, "color": "black"},
        "encoding": {"x": {"datum": 0, "type": "quantitative", "scale": {"domain": [0, 97], "nice": false, "zero": false}, "axis": null}, "x2": {"datum": 97},
         "y": {"field": "r", "type": "quantitative", "scale": {"domain": [5.5, 10.5], "reverse": true, "nice": false, "zero": false}, "axis": {"values": [6, 7, 8, 9, 10], "tickCount": 50, "format": "d", "title": null, "labelFontSize": 10, "ticks": false, "domain": false, "labelPadding": 2}}}},
       {"data": {"name": "b"}, "transform": [{"filter": "datum.g == 1 && datum.r > 5"}], "mark": {"type": "bar", "orient": "horizontal", "size": 7.5, "color": "black"},
        "encoding": {"x": {"field": "s", "type": "quantitative", "axis": null}, "x2": {"field": "e"}, "y": {"field": "r", "type": "quantitative"}}}
      ]
     }
    ]
   },
   {"width": 1, "height": 169, "data": {"values": []}, "mark": "point"},
   {
    "bounds": "flush", "spacing": 18,
    "hconcat": [
     {
      "width": 74, "height": 87.5,
      "layer": [
       {"data": {"name": "rows"}, "transform": [{"filter": "datum.r <= 5"}], "mark": {"type": "rule", "strokeWidth": 1},
        "encoding": {"x": {"datum": 0, "type": "quantitative", "scale": {"domain": [0, 97], "nice": false, "zero": false}, "axis": null}, "x2": {"datum": 97},
         "y": {"field": "r", "type": "quantitative", "scale": {"domain": [0.5, 5.5], "reverse": true, "nice": false, "zero": false}, "axis": {"values": [1, 2, 3, 4, 5], "tickCount": 50, "format": "d", "title": null, "labelFontSize": 13, "ticks": false, "domain": false, "labelPadding": 2}},
         "color": {"condition": {"test": "datum.r == 4", "value": "#9a9a9a"}, "value": "black"}}},
       {"data": {"name": "k"}, "transform": [{"filter": "datum.r <= 5"}], "mark": {"type": "tick", "orient": "vertical", "size": 9, "thickness": 1},
        "encoding": {"x": {"field": "t", "type": "quantitative", "axis": null}, "y": {"field": "r", "type": "quantitative"},
         "color": {"condition": {"test": "datum.r == 4", "value": "#9a9a9a"}, "value": "black"}}}
      ]
     },
     {
      "width": 73, "height": 87.5,
      "layer": [
       {"data": {"name": "rows"}, "transform": [{"filter": "datum.r > 5"}], "mark": {"type": "rule", "strokeWidth": 1, "color": "black"},
        "encoding": {"x": {"datum": 0, "type": "quantitative", "scale": {"domain": [0, 97], "nice": false, "zero": false}, "axis": null}, "x2": {"datum": 97},
         "y": {"field": "r", "type": "quantitative", "scale": {"domain": [5.5, 10.5], "reverse": true, "nice": false, "zero": false}, "axis": {"values": [6, 7, 8, 9, 10], "tickCount": 50, "format": "d", "title": null, "labelFontSize": 13, "ticks": false, "domain": false, "labelPadding": 2}}}},
       {"data": {"name": "k"}, "transform": [{"filter": "datum.r > 5"}], "mark": {"type": "tick", "orient": "vertical", "size": 9, "thickness": 1, "color": "black"},
        "encoding": {"x": {"field": "t", "type": "quantitative", "axis": null}, "y": {"field": "r", "type": "quantitative"}}}
      ]
     }
    ]
   },
   {"width": 1, "height": 158, "data": {"values": []}, "mark": "point"},
   {
    "bounds": "flush", "spacing": 18,
    "hconcat": [
     {
      "width": 74, "height": 80,
      "layer": [
       {"data": {"name": "rows"}, "transform": [{"filter": "datum.r <= 5"}], "mark": {"type": "rule", "strokeWidth": 1},
        "encoding": {"x": {"datum": 0, "type": "quantitative", "scale": {"domain": [0, 97], "nice": false, "zero": false}, "axis": null}, "x2": {"datum": 97},
         "y": {"field": "r", "type": "quantitative", "scale": {"domain": [0.5, 5.5], "reverse": true, "nice": false, "zero": false}, "axis": {"values": [1, 2, 3, 4, 5], "tickCount": 50, "format": "d", "title": null, "labelFontSize": 13, "ticks": false, "domain": false, "labelPadding": 2}},
         "color": {"condition": {"test": "datum.r == 4", "value": "#9a9a9a"}, "value": "black"}}},
       {"data": {"name": "b"}, "transform": [{"filter": "datum.g == 3 && datum.r <= 5"}], "mark": {"type": "bar", "orient": "horizontal", "size": 10},
        "encoding": {"x": {"field": "s", "type": "quantitative", "axis": null}, "x2": {"field": "e"}, "y": {"field": "r", "type": "quantitative"},
         "color": {"condition": {"test": "datum.r == 4", "value": "#9a9a9a"}, "value": "black"}}}
      ]
     },
     {
      "width": 73, "height": 80,
      "layer": [
       {"data": {"name": "rows"}, "transform": [{"filter": "datum.r > 5"}], "mark": {"type": "rule", "strokeWidth": 1, "color": "black"},
        "encoding": {"x": {"datum": 0, "type": "quantitative", "scale": {"domain": [0, 97], "nice": false, "zero": false}, "axis": null}, "x2": {"datum": 97},
         "y": {"field": "r", "type": "quantitative", "scale": {"domain": [5.5, 10.5], "reverse": true, "nice": false, "zero": false}, "axis": {"values": [6, 7, 8, 9, 10], "tickCount": 50, "format": "d", "title": null, "labelFontSize": 13, "ticks": false, "domain": false, "labelPadding": 2}}}},
       {"data": {"name": "b"}, "transform": [{"filter": "datum.g == 3 && datum.r > 5"}], "mark": {"type": "bar", "orient": "horizontal", "size": 10, "color": "black"},
        "encoding": {"x": {"field": "s", "type": "quantitative", "axis": null}, "x2": {"field": "e"}, "y": {"field": "r", "type": "quantitative"}}},
       {"data": {"values": [{}]}, "mark": {"type": "rule", "color": "black", "strokeWidth": 1.5}, "encoding": {"x": {"datum": 57}, "x2": {"datum": 97}, "y": {"datum": 10.875}}},
       {"data": {"values": [{}]}, "mark": {"type": "text", "text": "40 s", "align": "center", "baseline": "alphabetic", "fontSize": 14}, "encoding": {"x": {"datum": 77}, "y": {"datum": 11.8}}}
      ]
     }
    ]
   }
  ]
 },
 {"width": 225, "height": 1, "data": {"values": []}, "mark": "point"},
 {
  "bounds": "flush", "spacing": 0,
  "vconcat": [
   {
    "bounds": "flush", "spacing": 0,
    "hconcat": [
     {"width": 6, "height": 1, "data": {"values": []}, "mark": "point"},
     {
      "bounds": "flush", "spacing": 25,
      "vconcat": [
       {
        "width": 102, "height": 68,
        "title": {"text": "C", "offset": 5.5},
        "layer": [
         {"data": {"values": [{}]}, "mark": {"type": "rule", "color": "#a8a8a8", "strokeDash": [3, 2]},
          "encoding": {"y": {"datum": 0, "type": "quantitative", "scale": {"domain": [0, 20], "nice": false}, "axis": {"values": [0, 5, 10, 15, 20], "tickCount": 50, "format": "d", "title": "LG bursts/100s"}}}},
         {"data": {"name": "cbar"}, "mark": {"type": "bar", "orient": "vertical", "size": 20, "color": "#1d4e92"},
          "encoding": {"x": {"field": "x", "type": "quantitative", "scale": {"domain": [0.75, 3.25], "nice": false, "zero": false}, "axis": null}, "y": {"field": "m", "type": "quantitative"}}},
         {"data": {"name": "cbar"}, "mark": {"type": "rule", "strokeWidth": 5, "color": "black"},
          "encoding": {"x": {"field": "x", "type": "quantitative", "axis": null}, "y": {"field": "lo", "type": "quantitative"}, "y2": {"field": "hi"}}},
         {"data": {"name": "sig"}, "transform": [{"filter": "datum.p == 'ct'"}], "mark": {"type": "rule", "color": "#333333", "strokeWidth": 1.2},
          "encoding": {"x": {"field": "x1", "type": "quantitative", "axis": null}, "x2": {"field": "x2"}, "y": {"field": "y", "type": "quantitative"}}},
         {"data": {"name": "sig"}, "transform": [{"filter": "datum.p == 'ct'"}], "mark": {"type": "text", "fontSize": 14, "baseline": "alphabetic", "color": "#333333"},
          "encoding": {"x": {"field": "xm", "type": "quantitative", "axis": null}, "y": {"field": "ty", "type": "quantitative"}, "text": {"field": "lab"}}}
        ]
       },
       {
        "width": 102, "height": 124,
        "layer": [
         {"data": {"name": "cs"}, "mark": {"type": "line", "color": "black", "strokeWidth": 1},
          "encoding": {"x": {"field": "x", "type": "quantitative", "scale": {"domain": [0.75, 3.25], "nice": false, "zero": false}, "axis": {"values": [1, 2, 3], "tickCount": 50, "title": null, "labelFontSize": 15, "labelPadding": 2, "labelExpr": "datum.value == 1 ? '10°C' : datum.value == 2 ? '13°C' : ['10°C', '(post)']"}},
           "y": {"field": "v", "type": "quantitative", "scale": {"domain": [0, 35], "nice": false}, "axis": {"values": [0, 5, 10, 15, 20, 25, 30, 35], "tickCount": 50, "format": "d", "title": "LG spikes/burst"}},
           "detail": {"field": "p"}}},
         {"data": {"name": "cs"}, "mark": {"type": "point", "filled": true, "size": 45, "opacity": 1},
          "encoding": {"x": {"field": "x", "type": "quantitative"}, "y": {"field": "v", "type": "quantitative"},
           "color": {"condition": {"test": "datum.x == 2", "value": "#e31e24"}, "value": "#1d4e92"}}},
         {"data": {"name": "sig"}, "transform": [{"filter": "datum.p == 'cb'"}], "mark": {"type": "rule", "color": "#333333", "strokeWidth": 1.2},
          "encoding": {"x": {"field": "x1", "type": "quantitative"}, "x2": {"field": "x2"}, "y": {"field": "y", "type": "quantitative"}}},
         {"data": {"name": "sig"}, "transform": [{"filter": "datum.p == 'cb'"}], "mark": {"type": "text", "fontSize": 14, "baseline": "alphabetic", "color": "#333333"},
          "encoding": {"x": {"field": "xm", "type": "quantitative"}, "y": {"field": "ty", "type": "quantitative"}, "text": {"field": "lab"}}}
        ]
       }
      ]
     },
     {"width": 166, "height": 1, "data": {"values": []}, "mark": "point"},
     {
      "bounds": "flush", "spacing": 25,
      "vconcat": [
       {
        "width": 72, "height": 68,
        "title": {"text": "D", "offset": 5.5},
        "layer": [
         {"data": {"values": [{}]}, "mark": {"type": "rule", "color": "#a8a8a8", "strokeDash": [3, 2]},
          "encoding": {"y": {"datum": 0, "type": "quantitative", "scale": {"domain": [0, 20], "nice": false}, "axis": {"values": [0, 5, 10, 15, 20], "tickCount": 50, "format": "d", "title": "LG bursts/100s"}}}},
         {"data": {"name": "dbox"}, "mark": {"type": "bar", "orient": "vertical", "size": 22, "stroke": "#222222", "strokeWidth": 1},
          "encoding": {"x": {"field": "x", "type": "quantitative", "scale": {"domain": [0.575, 2.375], "nice": false, "zero": false}, "axis": null}, "y": {"field": "q1", "type": "quantitative"}, "y2": {"field": "q3"},
           "color": {"condition": {"test": "datum.x == 1", "value": "#1d4e92"}, "value": "#e31e24"}}},
         {"data": {"name": "dbox"}, "transform": [{"filter": "datum.x == 1"}], "mark": {"type": "tick", "orient": "horizontal", "size": 22, "thickness": 1, "color": "#111111"},
          "encoding": {"x": {"field": "x", "type": "quantitative", "axis": null}, "y": {"field": "med", "type": "quantitative"}}},
         {"data": {"name": "sig"}, "transform": [{"filter": "datum.p == 'dt'"}], "mark": {"type": "rule", "color": "#333333", "strokeWidth": 1.2},
          "encoding": {"x": {"field": "x1", "type": "quantitative", "axis": null}, "x2": {"field": "x2"}, "y": {"field": "y", "type": "quantitative"}}},
         {"data": {"name": "sig"}, "transform": [{"filter": "datum.p == 'dt'"}], "mark": {"type": "text", "fontSize": 14, "baseline": "alphabetic", "color": "#333333"},
          "encoding": {"x": {"field": "xm", "type": "quantitative", "axis": null}, "y": {"field": "ty", "type": "quantitative"}, "text": {"field": "lab"}}}
        ]
       },
       {
        "width": 72, "height": 124,
        "layer": [
         {"data": {"name": "ds"}, "mark": {"type": "line", "color": "black", "strokeWidth": 1},
          "encoding": {"x": {"field": "x", "type": "quantitative", "scale": {"domain": [0.575, 2.375], "nice": false, "zero": false}, "axis": {"values": [1, 2], "tickCount": 50, "title": null, "labelFontSize": 15, "labelPadding": 2, "labelExpr": "datum.value == 1 ? '10°C' : '13°C'"}},
           "y": {"field": "v", "type": "quantitative", "scale": {"domain": [0, 35], "nice": false}, "axis": {"values": [0, 5, 10, 15, 20, 25, 30, 35], "tickCount": 50, "format": "d", "title": "LG spikes/burst"}},
           "detail": {"field": "p"}}},
         {"data": {"name": "ds"}, "mark": {"type": "point", "filled": true, "size": 45, "opacity": 1},
          "encoding": {"x": {"field": "x", "type": "quantitative"}, "y": {"field": "v", "type": "quantitative"},
           "color": {"condition": {"test": "datum.x == 2", "value": "#e31e24"}, "value": "#1d4e92"}}},
         {"data": {"name": "sig"}, "transform": [{"filter": "datum.p == 'db'"}], "mark": {"type": "rule", "color": "#333333", "strokeWidth": 1.2},
          "encoding": {"x": {"field": "x1", "type": "quantitative"}, "x2": {"field": "x2"}, "y": {"field": "y", "type": "quantitative"}}},
         {"data": {"name": "sig"}, "transform": [{"filter": "datum.p == 'db'"}], "mark": {"type": "text", "fontSize": 14, "baseline": "alphabetic", "color": "#333333"},
          "encoding": {"x": {"field": "xm", "type": "quantitative"}, "y": {"field": "ty", "type": "quantitative"}, "text": {"field": "lab"}}}
        ]
       }
      ]
     }
    ]
   },
   {"width": 1, "height": 290, "data": {"values": []}, "mark": "point"},
   {
    "width": 233, "height": 147,
    "title": {"text": "E", "offset": 1, "dx": 6},
    "layer": [
     {"data": {"name": "sc"}, "mark": {"type": "point", "filled": true, "size": 22, "opacity": 1},
      "encoding": {"x": {"field": "T", "type": "quantitative", "scale": {"domain": [7.45, 16.2], "nice": false, "zero": false}, "axis": {"values": [8, 9, 10, 11, 12, 13, 14, 15, 16], "tickCount": 50, "format": "d", "title": "temperature [°C]", "labelFontSize": 15, "titlePadding": 2}},
       "y": {"field": "v", "type": "quantitative", "scale": {"domain": [0, 80], "nice": false}, "axis": {"values": [0, 10, 20, 30, 40, 50, 60, 70, 80], "tickCount": 50, "format": "d", "labelExpr": "datum.value % 20 == 0 ? datum.label : ''", "title": "LG spikes/burst"}},
       "color": {"field": "f", "type": "nominal", "scale": {"domain": [4, 7], "range": ["#2f972f", "#7b2082"]}, "legend": {"orient": "none", "legendX": 667, "legendY": 286, "direction": "vertical", "title": null, "labelFontSize": 15, "labelColor": "black", "symbolSize": 90, "rowPadding": 2, "padding": 0, "labelOffset": 2, "labelExpr": "datum.label + ' Hz MCN1 stim'"}},
       "shape": {"field": "f", "type": "nominal", "scale": {"domain": [4, 7], "range": ["diamond", "circle"]}, "legend": {"orient": "none", "legendX": 667, "legendY": 286, "direction": "vertical", "title": null, "labelFontSize": 15, "labelColor": "black", "symbolSize": 90, "rowPadding": 2, "padding": 0, "labelOffset": 2, "labelExpr": "datum.label + ' Hz MCN1 stim'"}}}},
     {"data": {"name": "reg"}, "mark": {"type": "line", "color": "black", "strokeWidth": 1.2},
      "encoding": {"x": {"field": "T", "type": "quantitative"}, "y": {"field": "v", "type": "quantitative"}, "detail": {"field": "f"}}},
     {"data": {"name": "etx"}, "mark": {"type": "text", "align": "left", "baseline": "alphabetic", "fontSize": 15},
      "encoding": {"x": {"field": "T", "type": "quantitative"}, "y": {"field": "v", "type": "quantitative"}, "text": {"field": "txt"},
       "color": {"condition": {"test": "datum.f == 4", "value": "#2f972f"}, "value": "#7b2082"}}}
    ]
   }
  ]
 }
]
}
